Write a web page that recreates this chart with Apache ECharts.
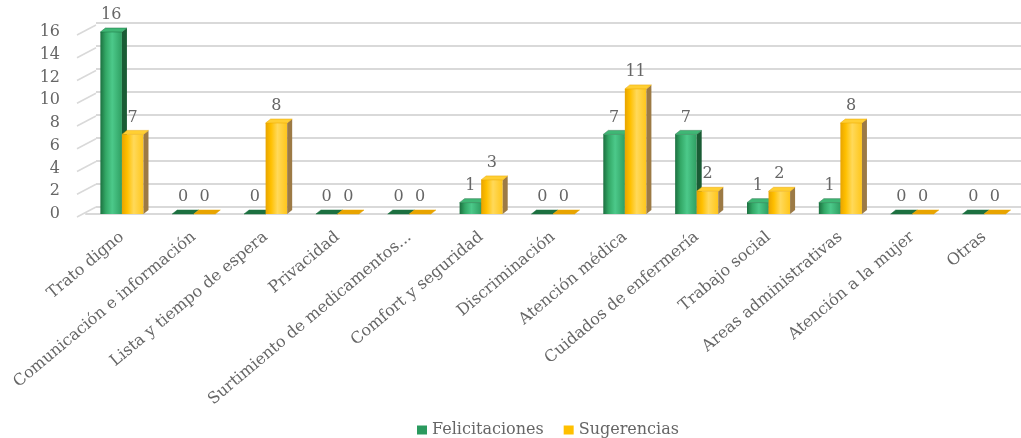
<!DOCTYPE html>
<html>
<head>
<meta charset="utf-8">
<script src="https://cdn.jsdelivr.net/npm/echarts@6/dist/echarts.min.js"></script>
<style>
  html, body { margin: 0; padding: 0; background: #ffffff; }
  #chart { width: 1021px; height: 438px; }
</style>
</head>
<body>
<div id="chart"></div>
<script>
// Categories and counts per type of comment
const categories = [
  'Trato digno', 'Comunicación e información', 'Lista y tiempo de espera', 'Privacidad',
  'Surtimiento de medicamentos...', 'Comfort y seguridad', 'Discriminación', 'Atención médica',
  'Cuidados de enfermería', 'Trabajo social', 'Areas administrativas', 'Atención a la mujer', 'Otras'
];
const felicitaciones = [16, 0, 0, 0, 0, 1, 0, 7, 7, 1, 1, 0, 0];
const sugerencias    = [7, 0, 8, 0, 0, 3, 0, 11, 2, 2, 8, 0, 0];
const yTicks = [0, 2, 4, 6, 8, 10, 12, 14, 16];

const FONT = '"DejaVu Serif", "Liberation Serif", serif';
const TEXT_COLOR = '#666666';
const GRID_COLOR = '#d9d9d9';

const palettes = [
  { // green
    legend: '#2a9a5e',
    front: ['#1c7040', '#33a866', '#4cc98a', '#2f9f62'],
    side: '#1a5c35',
    top: '#3fb775'
  },
  { // yellow
    legend: '#ffc000',
    front: ['#e8a400', '#ffc000', '#ffd95a', '#ffc61a'],
    side: '#9c7a45',
    top: '#ffcf33'
  }
];

// Pseudo-3D column: front face, right side face and top face
function barRenderer(side, pal) {
  return function (params, api) {
    const idx = api.value(0);
    const v = api.value(1);
    const base = api.coord([idx, 0]);
    const top = api.coord([idx, v]);
    const band = api.size([1, 0])[0];
    const w = band * 0.3;
    const x0 = side === 0 ? base[0] - w : base[0];
    const x1 = x0 + w;
    const dx = 5, dy = -4;
    const yT = top[1], yB = base[1];
    const children = [];
    if (yB - yT > 0) {
      children.push({
        type: 'rect',
        shape: { x: x0, y: yT, width: w, height: yB - yT },
        style: {
          fill: new echarts.graphic.LinearGradient(0, 0, 1, 0, [
            { offset: 0, color: pal.front[0] },
            { offset: 0.25, color: pal.front[1] },
            { offset: 0.55, color: pal.front[2] },
            { offset: 1, color: pal.front[3] }
          ])
        }
      });
      children.push({
        type: 'polygon',
        shape: { points: [[x1, yT], [x1 + dx, yT + dy], [x1 + dx, yB + dy], [x1, yB]] },
        style: { fill: pal.side }
      });
    }
    children.push({
      type: 'polygon',
      shape: { points: [[x0, yT], [x0 + dx, yT + dy], [x1 + dx, yT + dy], [x1, yT]] },
      style: { fill: yB - yT > 0 ? pal.top : pal.front[0], stroke: pal.front[0], lineWidth: 0.5 }
    });
    children.push({
      type: 'text',
      style: {
        text: String(v),
        x: x0 + w / 2,
        y: yT + dy - 5,
        align: 'center',
        verticalAlign: 'bottom',
        fill: TEXT_COLOR,
        fontSize: 16,
        fontFamily: FONT
      }
    });
    return { type: 'group', children: children };
  };
}

// Short slanted lines joining the value labels to the back-wall gridlines
function diagonalRenderer(params, api) {
  const p = api.coord([0, api.value(1)]);
  const band = api.size([1, 0])[0];
  const left = p[0] - band / 2;
  return {
    type: 'line',
    shape: { x1: left - 9, y1: p[1] + 3, x2: left + 10, y2: p[1] - 7 },
    style: { stroke: GRID_COLOR, lineWidth: 1.5 }
  };
}

const chart = echarts.init(document.getElementById('chart'), null, { renderer: 'canvas' });

chart.setOption({
  animation: false,
  backgroundColor: '#ffffff',
  legend: {
    data: ['Felicitaciones', 'Sugerencias'],
    left: 412,
    top: 417,
    icon: 'rect',
    itemWidth: 10,
    itemHeight: 9,
    itemGap: 20,
    textStyle: { color: TEXT_COLOR, fontSize: 16, fontFamily: FONT }
  },
  grid: [
    { left: 86, right: 1, top: 32, bottom: 224 },   // columns
    { left: 96, right: 0, top: 23, bottom: 231 }    // back wall
  ],
  xAxis: [
    {
      type: 'category',
      gridIndex: 0,
      data: categories,
      offset: 3,
      axisLine: { show: true, lineStyle: { color: GRID_COLOR, width: 2 } },
      axisTick: { show: false },
      axisLabel: {
        interval: 0,
        rotate: 40,
        margin: 18,
        color: TEXT_COLOR,
        fontSize: 16,
        fontFamily: FONT
      }
    },
    { type: 'value', gridIndex: 1, show: false, min: 0, max: 1 }
  ],
  yAxis: [
    {
      type: 'value',
      gridIndex: 0,
      min: 0,
      max: 16,
      interval: 2,
      axisLine: { show: false },
      axisTick: { show: false },
      splitLine: { show: false },
      axisLabel: { margin: 26, color: TEXT_COLOR, fontSize: 16, fontFamily: FONT }
    },
    {
      type: 'value',
      gridIndex: 1,
      min: 0,
      max: 16,
      interval: 2,
      axisLine: { show: false },
      axisTick: { show: false },
      axisLabel: { show: false },
      splitLine: { show: true, lineStyle: { color: GRID_COLOR, width: 2 } }
    }
  ],
  series: [
    {
      type: 'custom',
      name: 'diagonals',
      xAxisIndex: 0,
      yAxisIndex: 0,
      silent: true,
      data: yTicks.map(t => [0, t]),
      renderItem: diagonalRenderer,
      z: 1
    },
    {
      type: 'custom',
      name: 'Felicitaciones',
      xAxisIndex: 0,
      yAxisIndex: 0,
      itemStyle: { color: palettes[0].legend },
      data: felicitaciones.map((v, i) => [i, v]),
      renderItem: barRenderer(0, palettes[0]),
      z: 3
    },
    {
      type: 'custom',
      name: 'Sugerencias',
      xAxisIndex: 0,
      yAxisIndex: 0,
      itemStyle: { color: palettes[1].legend },
      data: sugerencias.map((v, i) => [i, v]),
      renderItem: barRenderer(1, palettes[1]),
      z: 4
    }
  ]
});
</script>
</body>
</html>
